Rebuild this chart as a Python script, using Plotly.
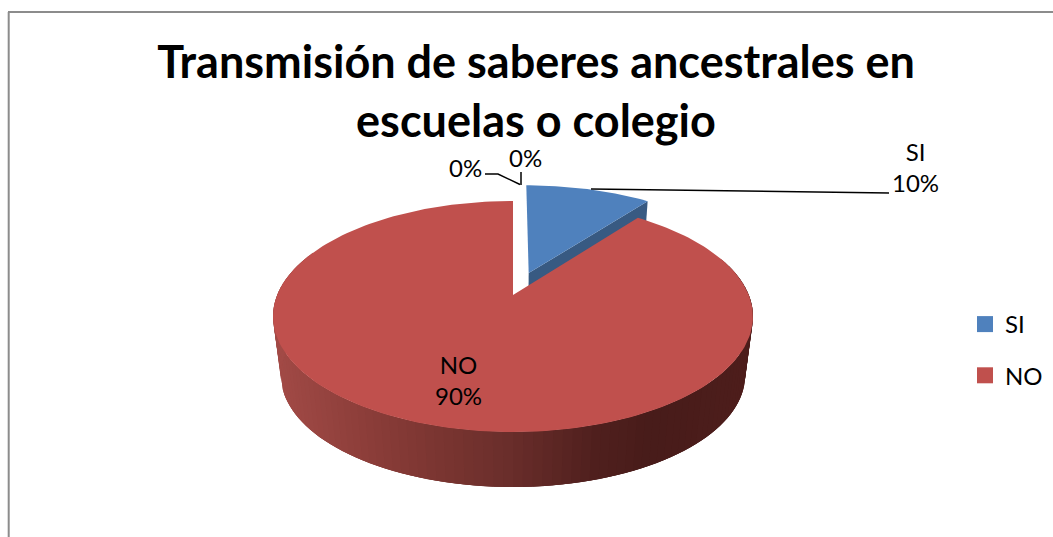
import numpy as np
import plotly.graph_objects as go

# ---- data ----
categories = ["SI", "NO", "", ""]
values = [10.4, 89.6, 0.0, 0.0]
legend_names = ["SI", "NO"]
title_text = "Transmisión de saberes ancestrales en<br>escuelas o colegio"
FONT = "Lato, Carlito, Calibri, sans-serif"

# ---- projection of the tilted pie onto the canvas ----
W, H = 1053, 537
CX, CY, RX, RY, K = 513.0, 295.0, 235.8, 111.5, 0.186
DEPTH_S, DEPTH_D = 0.967, 69.3
EXPLODE = 0.215


def project(u, v):
    w = 1 - K * v
    return CX + RX * u / w, CY + RY * v / w


def drop(x, y):
    return CX + (x - CX) * DEPTH_S, DEPTH_D + DEPTH_S * y


def rim(a0, a1, n, du=0.0, dv=0.0):
    t = np.radians(np.linspace(a0, a1, n))
    return project(np.sin(t) + du, -np.cos(t) + dv)


total = sum(values)
si_angle = 360 * values[0] / total
mid = np.radians(si_angle / 2)
du, dv = EXPLODE * np.sin(mid), -EXPLODE * np.cos(mid)

BLUE, BLUE_DARK, RED = "#4f81bd", "#385a82", "#c0504d"
wall_x = [272, 400, 514, 600, 660, 752]
wall_r = [163, 133, 106, 80, 72, 78]
wall_g = [75, 58, 46, 32, 28, 30]
wall_b = [71, 54, 43, 30, 26, 28]

fig = go.Figure()


def poly(xs, ys, color, name="", line=0.0):
    fig.add_trace(go.Scatter(
        x=list(xs), y=list(ys), mode="lines", fill="toself", fillcolor=color,
        line=dict(color=color, width=line), hoverinfo="skip", showlegend=False, name=name))


# blue slice: cut wall, then top
ax, ay = project(du, dv)
bx, by = rim(si_angle, si_angle, 1, du, dv)
poly([ax, bx[0], drop(bx[0], by[0])[0], drop(ax, ay)[0]],
     [ay, by[0], drop(bx[0], by[0])[1], drop(ax, ay)[1]], BLUE_DARK, "SI wall")
rx_, ry_ = rim(0, si_angle, 40, du, dv)
poly(np.r_[ax, rx_, ax], np.r_[ay, ry_, ay], BLUE, "SI")

# red slice: shaded rim (overlapping bands, so no seams), then top
STEP = 2.0
edges = np.arange(70, 290, STEP)
for a0 in edges:
    tx, ty = rim(a0, a0 + STEP * 3, 4)
    lx, ly = drop(tx, ty)
    c = "rgb(%d,%d,%d)" % tuple(int(np.interp(tx[0], wall_x, s)) for s in (wall_r, wall_g, wall_b))
    poly(np.r_[tx, lx[::-1]], np.r_[ty, ly[::-1]], c, "NO wall")
rx_, ry_ = rim(si_angle, 360, 200)
poly(np.r_[CX, rx_, CX], np.r_[CY, ry_, CY], RED, "NO")

# leader lines
for lx, ly in [([591, 889], [189, 193]),
               ([485, 498, 520], [174, 174, 184.5]),
               ([521, 521], [172, 185])]:
    fig.add_trace(go.Scatter(x=lx, y=ly, mode="lines", line=dict(color="black", width=1.5),
                             hoverinfo="skip", showlegend=False))

# legend entries
for n, c in zip(legend_names, [BLUE, RED]):
    fig.add_trace(go.Scatter(x=[None], y=[None], mode="markers", name=n, legendgroup=n,
                             marker=dict(symbol="square", size=16, color=c)))

pct = [f"{round(100 * v / total)}%" for v in values]
labels = [(915, 167, f"{categories[0]}<br>{pct[0]}"),
          (458, 380, f"{categories[1]}<br>{pct[1]}"),
          (465, 167, pct[2]),
          (525, 157, pct[3])]
annotations = [dict(x=x, y=y, text=t, showarrow=False, xref="x", yref="y",
                    font=dict(family=FONT, size=24, color="black"), align="center")
               for x, y, t in labels]

fig.update_layout(
    width=W, height=H, margin=dict(l=0, r=0, t=0, b=0),
    paper_bgcolor="white", plot_bgcolor="white",
    title=dict(text=title_text, x=536 / W, xanchor="center", y=1 - 78 / H, yanchor="top",
               font=dict(family=FONT, size=45, color="black", weight="bold")),
    xaxis=dict(range=[0, W], visible=False, fixedrange=True),
    yaxis=dict(range=[H, 0], visible=False, fixedrange=True),
    legend=dict(x=965 / W, y=1 - 302 / H, xanchor="left", yanchor="top",
                font=dict(family=FONT, size=24, color="black"), tracegroupgap=17,
                itemwidth=30, bgcolor="rgba(0,0,0,0)"),
    annotations=annotations,
    shapes=[dict(type="line", xref="x", yref="y", x0=8.7, x1=8.7, y0=12, y1=H,
                 line=dict(color="#8c8c8c", width=2)),
            dict(type="line", xref="x", yref="y", x0=8, x1=W, y0=12, y1=12,
                 line=dict(color="#8c8c8c", width=2))],
)

fig.write_html("out.html", config=dict(displayModeBar=False),
               post_script="document.body.style.margin='0';document.body.style.overflow='hidden';")
